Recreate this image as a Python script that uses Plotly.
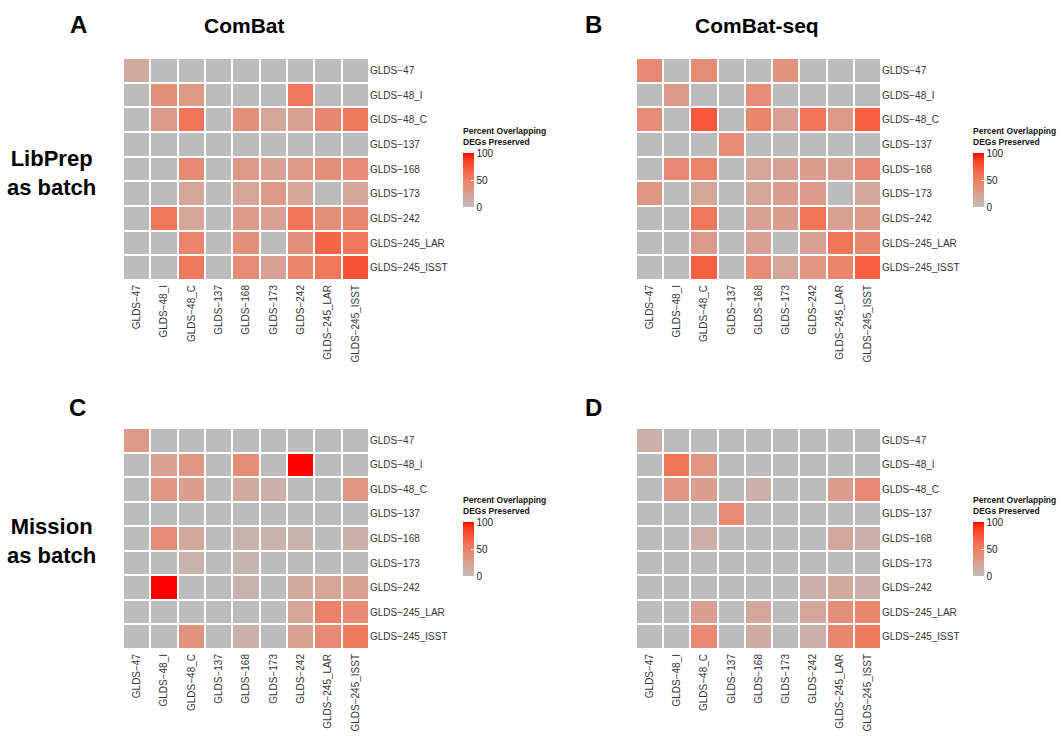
import plotly.graph_objects as go

datasets = ["GLDS-47", "GLDS-48_I", "GLDS-48_C", "GLDS-137", "GLDS-168",
            "GLDS-173", "GLDS-242", "GLDS-245_LAR", "GLDS-245_ISST"]
tick_labels = [d.replace("-", "\u2212") for d in datasets]

# Percent overlapping DEGs preserved (rows = y, top to bottom; cols = x, left to right)
combat_libprep = [
    [17, 0, 0, 0, 0, 0, 0, 0, 0],
    [0, 37, 30, 0, 0, 0, 55, 0, 0],
    [0, 28, 57, 0, 37, 20, 23, 43, 53],
    [0, 0, 0, 0, 0, 0, 0, 0, 0],
    [0, 0, 41, 0, 30, 23, 30, 37, 39],
    [0, 0, 20, 0, 20, 30, 20, 0, 20],
    [0, 55, 20, 0, 28, 23, 57, 37, 44],
    [0, 0, 46, 0, 37, 0, 37, 67, 55],
    [0, 0, 53, 0, 40, 23, 46, 55, 78],
]
combatseq_libprep = [
    [41, 0, 39, 0, 0, 35, 0, 0, 0],
    [0, 28, 0, 0, 40, 0, 0, 0, 0],
    [39, 0, 74, 0, 46, 23, 57, 29, 70],
    [0, 0, 0, 40, 0, 0, 0, 0, 0],
    [0, 41, 46, 0, 20, 23, 25, 23, 41],
    [32, 0, 20, 0, 20, 26, 28, 0, 18],
    [0, 0, 55, 0, 23, 26, 57, 23, 28],
    [0, 0, 28, 0, 23, 0, 23, 57, 44],
    [0, 0, 70, 0, 40, 20, 32, 46, 70],
]
combat_mission = [
    [30, 0, 0, 0, 0, 0, 0, 0, 0],
    [0, 23, 32, 0, 39, 0, 100, 0, 0],
    [0, 32, 26, 0, 17, 11, 0, 0, 32],
    [0, 0, 0, 0, 0, 0, 0, 0, 0],
    [0, 39, 17, 0, 9, 9, 9, 0, 11],
    [0, 0, 9, 0, 7, 0, 0, 0, 0],
    [0, 100, 0, 0, 9, 0, 17, 20, 23],
    [0, 0, 0, 0, 0, 0, 20, 48, 41],
    [0, 0, 35, 0, 11, 0, 23, 41, 53],
]
combatseq_mission = [
    [11, 0, 0, 0, 0, 0, 0, 0, 0],
    [0, 57, 32, 0, 0, 0, 0, 0, 0],
    [0, 32, 26, 0, 11, 0, 0, 26, 41],
    [0, 0, 0, 40, 0, 0, 0, 0, 0],
    [0, 0, 11, 0, 0, 0, 0, 18, 11],
    [0, 0, 0, 0, 0, 0, 0, 0, 0],
    [0, 0, 0, 0, 0, 0, 11, 17, 11],
    [0, 0, 26, 0, 18, 0, 18, 37, 44],
    [0, 0, 41, 0, 14, 0, 11, 44, 53],
]
colorbar_title = "Percent Overlapping<br>DEGs Preserved"

W, H = 1064, 736


# ---- grey -> red gradient interpolated in CIELAB (like ggplot2) ----
def _lin(c):
    c = c / 255
    return c / 12.92 if c <= 0.04045 else ((c + 0.055) / 1.055) ** 2.4


def _gam(c):
    c = 12.92 * c if c <= 0.0031308 else 1.055 * c ** (1 / 2.4) - 0.055
    return max(0, min(255, round(c * 255)))


Xn, Yn, Zn = 0.95047, 1.0, 1.08883


def to_lab(rgb):
    r, g, b = [_lin(v) for v in rgb]
    X = 0.4124 * r + 0.3576 * g + 0.1805 * b
    Y = 0.2126 * r + 0.7152 * g + 0.0722 * b
    Z = 0.0193 * r + 0.1192 * g + 0.9505 * b

    def f(t):
        return t ** (1 / 3) if t > 216 / 24389 else (24389 / 27 * t + 16) / 116
    fx, fy, fz = f(X / Xn), f(Y / Yn), f(Z / Zn)
    return 116 * fy - 16, 500 * (fx - fy), 200 * (fy - fz)


def from_lab(lab):
    L, a, b = lab
    fy = (L + 16) / 116
    fx = fy + a / 500
    fz = fy - b / 200

    def fi(t):
        return t ** 3 if t ** 3 > 216 / 24389 else (116 * t - 16) / (24389 / 27)
    X, Y, Z = fi(fx) * Xn, fi(fy) * Yn, fi(fz) * Zn
    r = 3.2406 * X - 1.5372 * Y - 0.4986 * Z
    g = -0.9689 * X + 1.8758 * Y + 0.0415 * Z
    bb = 0.0557 * X - 0.2040 * Y + 1.0570 * Z
    return _gam(r), _gam(g), _gam(bb)


lo, hi = to_lab((188, 188, 188)), to_lab((255, 0, 0))
colorscale = []
n = 20
for i in range(n + 1):
    t = i / n
    lab = tuple(lo[k] + (hi[k] - lo[k]) * t for k in range(3))
    r, g, b = from_lab(lab)
    colorscale.append([t, f"rgb({r},{g},{b})"])

FONT = "Liberation Sans, Arial, Helvetica, sans-serif"

# grid x-range, grid y-range, colorbar left, colorbar bar top (pixels)
panels = [
    (combat_libprep, (123, 369), (58, 280), 463, 153),
    (combatseq_libprep, (636, 881), (58, 280), 973, 153),
    (combat_mission, (123, 369), (428, 649), 463, 522),
    (combatseq_mission, (636, 881), (428, 649), 973, 522),
]

fig = go.Figure()
layout = {}
cb_annots = []
for i, (z, (x0, x1), (y0, y1), cbx, cbtop) in enumerate(panels, start=1):
    xa = "x" if i == 1 else f"x{i}"
    ya = "y" if i == 1 else f"y{i}"
    fig.add_trace(go.Heatmap(
        z=z, x=datasets, y=datasets, xaxis=xa, yaxis=ya,
        colorscale=colorscale, zmin=0, zmax=100, xgap=2, ygap=2,
        hovertemplate="%{y} vs %{x}: %{z}<extra></extra>",
        colorbar=dict(
            x=cbx / W, xanchor="left", xpad=0, ypad=0,
            y=1 - cbtop / H, yanchor="top",
            lenmode="pixels", len=54, thickness=11, outlinewidth=0,
            tickvals=[0, 50, 100], ticks="inside", ticklen=3, tickcolor="white",
            tickfont=dict(family=FONT, size=10, color="#222"),
        ),
    ))
    cb_annots.append(dict(
        text=f"<b>{colorbar_title}</b>", x=(cbx - 2) / W, y=1 - (cbtop - 4) / H,
        xref="paper", yref="paper", xanchor="left", yanchor="bottom",
        align="left", showarrow=False,
        font=dict(family=FONT, size=8.5, color="#111"),
    ))
    layout[f"xaxis{'' if i == 1 else i}"] = dict(
        domain=[x0 / W, x1 / W], anchor=ya, tickangle=-90,
        tickmode="array", tickvals=datasets, ticktext=tick_labels,
        tickfont=dict(family=FONT, size=10, color="#333"),
        showgrid=False, zeroline=False, showline=False, ticks="",
        ticklabelstandoff=2,
    )
    layout[f"yaxis{'' if i == 1 else i}"] = dict(
        domain=[1 - y1 / H, 1 - y0 / H], anchor=xa, side="right",
        autorange="reversed",
        tickmode="array", tickvals=datasets, ticktext=tick_labels,
        tickfont=dict(family=FONT, size=10, color="#333"),
        showgrid=False, zeroline=False, showline=False, ticks="",
    )

fig.update_layout(**layout)

annots = [
    ("<b>A</b>", 78, 25, 24), ("<b>ComBat</b>", 244, 26, 21),
    ("<b>B</b>", 593, 25, 24), ("<b>ComBat-seq</b>", 757, 26, 21),
    ("<b>C</b>", 77, 407, 24), ("<b>D</b>", 593, 407, 24),
    ("<b>LibPrep<br>as batch</b>", 51, 173, 22),
    ("<b>Mission<br>as batch</b>", 51, 541, 22),
]
fig.update_layout(annotations=[
    dict(text=t, x=x / W, y=1 - y / H, xref="paper", yref="paper",
         xanchor="center", yanchor="middle", showarrow=False,
         font=dict(family=FONT, size=s, color="black"))
    for t, x, y, s in annots
] + cb_annots)

fig.update_layout(
    width=W, height=H, margin=dict(l=0, r=0, t=0, b=0),
    paper_bgcolor="white", plot_bgcolor="white", showlegend=False,
)
fig.write_html(
    "out.html",
    config={"displayModeBar": False},
    post_script="document.body.style.margin='0';document.body.style.padding='0';",
)
